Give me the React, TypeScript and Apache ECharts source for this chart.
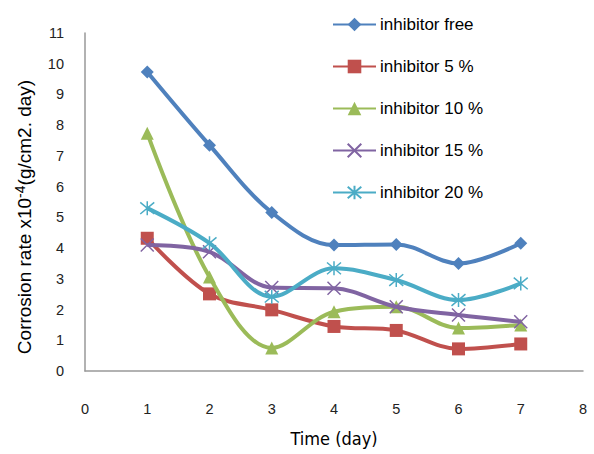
import React, { useEffect, useRef } from "react";
import * as echarts from "echarts";

const days = [1, 2, 3, 4, 5, 6, 7];
const seriesNames = ["inhibitor free", "inhibitor 5 %", "inhibitor 10 %", "inhibitor 15 %", "inhibitor 20 %"];
const freeVals = [9.73, 7.35, 5.16, 4.1, 4.12, 3.5, 4.16];
const inh5Vals = [4.32, 2.51, 1.99, 1.45, 1.32, 0.72, 0.88];
const inh10Vals = [7.74, 3.06, 0.75, 1.93, 2.09, 1.4, 1.5];
const inh15Vals = [4.1, 3.88, 2.72, 2.69, 2.09, 1.82, 1.6];
const inh20Vals = [5.3, 4.16, 2.42, 3.34, 2.96, 2.31, 2.85];
const colors = ["#4F81BD", "#C0504D", "#9BBB59", "#8064A2", "#4BACC6"];
const xTicks = [0, 1, 2, 3, 4, 5, 6, 7, 8];
const yMax = 11;

const X_SYM = "path://M0,0L10,10M10,0L0,10";
const STAR_SYM = "path://M0,0L10,10M10,0L0,10M5,-1L5,11";
const FONT = "Liberation Sans, Arial, sans-serif";

export default function App() {
  const ref = useRef<HTMLDivElement>(null);
  useEffect(() => {
    if (!ref.current) return;
    const chart = echarts.init(ref.current, undefined, { renderer: "svg" });
    const allVals = [freeVals, inh5Vals, inh10Vals, inh15Vals, inh20Vals];
    const symbols = ["diamond", "rect", "triangle", X_SYM, STAR_SYM];
    const sizes = [13, 13, 13, 13, 14];
    const series = allVals.map((vals, i) => {
      const stroked = i >= 3;
      return {
        name: seriesNames[i],
        type: "line",
        smooth: 0.35,
        data: days.map((d, j) => [d, vals[j]]),
        symbol: symbols[i],
        symbolSize: sizes[i],
        showSymbol: true,
        lineStyle: { color: colors[i], width: 4 },
        itemStyle: stroked
          ? { color: "rgba(0,0,0,0)", borderColor: colors[i], borderWidth: 1.5 }
          : { color: colors[i], borderWidth: 0 },
        z: 2 + i,
      };
    });
    chart.setOption({
      animation: false,
      color: colors,
      textStyle: { fontFamily: FONT },
      grid: { left: 85, right: 11, top: 33, bottom: 83, containLabel: false, outerBoundsMode: "none" },
      legend: {
        orient: "vertical",
        left: 327,
        top: 11,
        itemWidth: 43,
        itemHeight: 17,
        itemGap: 25,
        textStyle: { fontSize: 17, color: "#000", padding: [0, 0, 0, -1] },
        data: seriesNames,
      },
      xAxis: {
        type: "value",
        min: 0,
        max: 8,
        interval: 1,
        name: "Time (day)",
        nameLocation: "middle",
        nameGap: 58,
        nameTextStyle: { fontSize: 18, color: "#000", fontFamily: "Liberation Sans Narrow, DejaVu Sans Condensed, sans-serif" },
        axisLine: { show: true, lineStyle: { color: "#999", width: 1.5 } },
        axisTick: { show: false },
        splitLine: { show: false },
        axisLabel: { fontSize: 14.5, color: "#222", margin: 30, formatter: (v: number) => (xTicks.includes(v) ? String(v) : "") },
      },
      yAxis: {
        type: "value",
        min: 0,
        max: yMax,
        interval: 1,
        name: "Corrosion rate x10{sup|-4}(g/cm2. day)",
        nameLocation: "middle",
        nameGap: 50,
        nameTextStyle: {
          fontSize: 19,
          color: "#000",
          lineHeight: 22,
          padding: [0, 30, 0, 0],
          rich: { sup: { fontSize: 14, lineHeight: 22, verticalAlign: "top", padding: [0, 0, 8, 0], color: "#000" } },
        },
        axisLine: { show: true, lineStyle: { color: "#999", width: 1.5 } },
        axisTick: { show: false },
        splitLine: { show: false },
        axisLabel: { fontSize: 14.5, color: "#222", margin: 21 },
      },
      series,
    });
    return () => chart.dispose();
  }, []);
  return <div ref={ref} style={{ width: 594, height: 454, position: "absolute", left: 0, top: 0, background: "#fff" }} />;
}
